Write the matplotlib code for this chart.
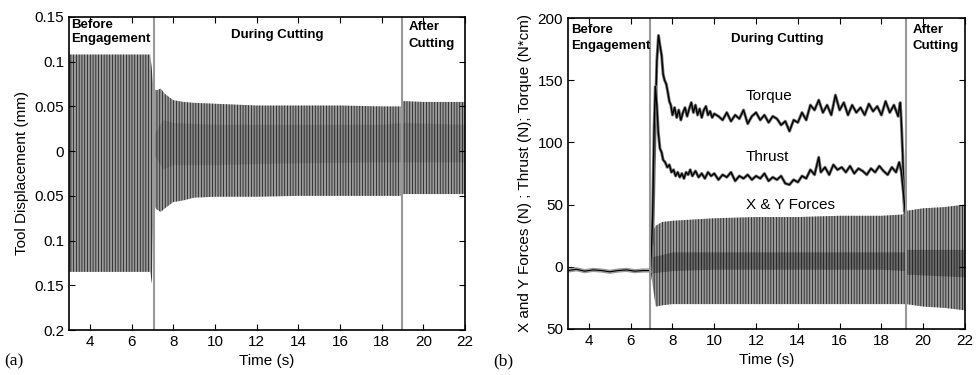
import matplotlib.pyplot as plt
import numpy as np

plt.rcParams['font.family'] = ['Liberation Sans', 'DejaVu Sans']
plt.rcParams['hatch.linewidth'] = 0.55

# ---- panel (a): tool displacement envelope (mm) ----
disp_t = [3.0, 4.0, 5.0, 6.0, 6.9, 6.98, 7.05, 7.2, 7.4, 7.6, 8.0, 8.5, 9.0, 10.0,
          12.0, 14.0, 16.0, 18.0, 18.95, 19.0, 20.0, 21.0, 22.0]
disp_up = [0.108, 0.108, 0.108, 0.108, 0.108, 0.09, 0.07, 0.068, 0.07, 0.064, 0.057,
           0.055, 0.054, 0.053, 0.051, 0.051, 0.051, 0.05, 0.05, 0.056, 0.055, 0.055, 0.055]
disp_lo = [-0.135, -0.135, -0.135, -0.135, -0.135, -0.148, -0.06, -0.065, -0.068,
           -0.064, -0.057, -0.055, -0.052, -0.051, -0.051, -0.05, -0.05, -0.05, -0.05,
           -0.048, -0.048, -0.048, -0.048]
core_t = [7.1, 7.5, 8.0, 10.0, 14.0, 18.0, 19.0, 22.0]
core_up = [0.02, 0.035, 0.032, 0.03, 0.03, 0.03, 0.032, 0.03]
core_lo = [-0.005, -0.02, -0.015, -0.015, -0.013, -0.012, -0.012, -0.012]

# ---- panel (b): forces / thrust / torque ----
base_t = [3.0, 3.4, 3.8, 4.2, 4.6, 5.0, 5.4, 5.8, 6.2, 6.6, 6.95]
base_v = [-3, -2, -3.5, -2.5, -3, -4, -3, -2.5, -3.5, -3, -3]

torque_t = [6.95, 7.05, 7.15, 7.25, 7.33, 7.40, 7.48, 7.55, 7.62, 7.70, 7.78, 7.85, 7.92,
            8.0, 8.1, 8.2, 8.3, 8.4, 8.5, 8.6, 8.7, 8.8, 8.9, 9.0, 9.1, 9.2, 9.3, 9.4,
            9.5, 9.6, 9.7, 9.8, 9.9, 10.0, 10.2, 10.4, 10.6, 10.8, 11.0, 11.2, 11.4,
            11.6, 11.8, 12.0, 12.2, 12.4, 12.6, 12.8, 13.0, 13.2, 13.4, 13.6, 13.8,
            14.0, 14.2, 14.4, 14.6, 14.8, 15.0, 15.2, 15.4, 15.6, 15.8, 16.0, 16.2,
            16.4, 16.6, 16.8, 17.0, 17.2, 17.4, 17.6, 17.8, 18.0, 18.2, 18.4, 18.6,
            18.8, 18.9, 18.95, 19.02, 19.1]
torque_v = [-3, 20, 100, 165, 186, 178, 170, 155, 150, 147, 140, 133, 130,
            122, 128, 120, 126, 118, 124, 128, 121, 127, 132, 124, 130, 122, 127, 120,
            126, 129, 122, 125, 120, 123, 121, 118, 124, 117, 122, 119, 126,
            115, 121, 124, 118, 122, 116, 121, 119, 114, 117, 109, 118,
            116, 124, 118, 130, 126, 134, 124, 130, 122, 138, 126, 132,
            122, 130, 124, 128, 122, 131, 125, 129, 122, 133, 124, 130,
            121, 132, 118, 90, 45]

thrust_t = [6.95, 7.05, 7.12, 7.18, 7.25, 7.32, 7.40, 7.48, 7.55, 7.65, 7.75, 7.85,
            7.95, 8.05, 8.15, 8.25, 8.35, 8.45, 8.55, 8.65, 8.75, 8.85, 8.95, 9.1,
            9.25, 9.4, 9.55, 9.7, 9.85, 10.0, 10.2, 10.4, 10.6, 10.8, 11.0, 11.2,
            11.4, 11.6, 11.8, 12.0, 12.2, 12.4, 12.6, 12.8, 13.0, 13.2, 13.4, 13.6,
            13.8, 14.0, 14.2, 14.4, 14.6, 14.8, 15.0, 15.1, 15.3, 15.5, 15.7, 15.9,
            16.1, 16.3, 16.5, 16.7, 16.9, 17.1, 17.3, 17.5, 17.7, 17.9, 18.1, 18.3,
            18.5, 18.7, 18.85, 18.95, 19.05, 19.15]
thrust_v = [-3, 40, 110, 145, 130, 108, 95, 92, 86, 84, 80, 82,
            76, 78, 73, 76, 72, 75, 71, 76, 74, 78, 73, 77,
            72, 75, 71, 76, 73, 75, 70, 74, 72, 76, 69, 73,
            71, 74, 70, 73, 71, 75, 69, 72, 70, 73, 67, 66,
            70, 68, 73, 71, 78, 74, 88, 76, 80, 74, 82, 78,
            80, 76, 81, 75, 79, 77, 74, 79, 76, 81, 77, 74,
            80, 76, 84, 77, 60, 42]

force_t = [6.95, 7.05, 7.2, 7.5, 8.0, 9.0, 10.0, 12.0, 14.0, 16.0, 18.0, 19.0,
           19.2, 20.0, 21.0, 22.0]
force_up = [0, 28, 33, 36, 37, 38, 39, 40, 40, 41, 41, 42, 45, 47, 48, 50]
force_lo = [-3, -15, -32, -31, -30, -30, -30, -30, -30, -30, -30, -30, -30, -32, -33, -35]
fcore_t = [7.0, 8.0, 10.0, 14.0, 18.0, 19.1, 19.2, 22.0]
fcore_up = [8, 12, 12, 12, 12, 12, 14, 14]
fcore_lo = [-5, -3, -2, -2, -2, -3, -6, -8]

xticks = [4, 6, 8, 10, 12, 14, 16, 18, 20, 22]
a_ticks = [0.15, 0.1, 0.05, 0, -0.05, -0.1, -0.15, -0.2]
a_labels = ['0.15', '0.1', '0.05', '0', '0.05', '0.1', '0.15', '0.2']
b_ticks = [200, 150, 100, 50, 0, -50]
b_labels = ['200', '150', '100', '50', '0', '50']

fig = plt.figure(figsize=(9.76, 3.75), dpi=100)
ax1 = fig.add_axes([0.0707, 0.12, 0.4057, 0.8347])
ax2 = fig.add_axes([0.582, 0.1227, 0.4067, 0.8293])

band = dict(facecolor='#9a9a9a', edgecolor='#1a1a1a', hatch='||||||', linewidth=0)
bold = dict(fontsize=9.5, fontweight='bold', va='top')

ax1.fill_between(disp_t, disp_lo, disp_up, **band)
ax1.fill_between(core_t, core_lo, core_up, color='black', alpha=0.12, linewidth=0)
ax1.axvline(7.1, color='#999999', lw=1.5)
ax1.axvline(19.0, color='#999999', lw=1.5)
ax1.set_ylim(-0.2, 0.15)
ax1.set_yticks(a_ticks)
ax1.set_yticklabels(a_labels)
ax1.set_ylabel('Tool Displacement (mm)', fontsize=11)
ax1.text(3.1, 0.148, 'Before\nEngagement', linespacing=1.25, **bold)
ax1.text(13.0, 0.137, 'During Cutting', ha='center', **bold)
ax1.text(19.3, 0.146, 'After\nCutting', linespacing=1.6, **bold)

ax2.fill_between(force_t, force_lo, force_up, **band)
ax2.fill_between(fcore_t, fcore_lo, fcore_up, color='black', alpha=0.3, linewidth=0)
ax2.plot(base_t, base_v, color='#9a9a9a', lw=3)
ax2.plot(base_t, base_v, color='black', lw=0.8)
ax2.plot(torque_t, torque_v, color='#777777', lw=2.2)
ax2.plot(torque_t, torque_v, color='black', lw=1.0)
ax2.plot(thrust_t, thrust_v, color='#777777', lw=2.2)
ax2.plot(thrust_t, thrust_v, color='black', lw=1.0)
ax2.axvline(6.9, color='#999999', lw=1.5)
ax2.axvline(19.2, color='#999999', lw=1.5)
ax2.set_ylim(-50, 200)
ax2.set_yticks(b_ticks)
ax2.set_yticklabels(b_labels)
ax2.set_ylabel('X and Y Forces (N) ; Thrust (N); Torque (N*cm)', fontsize=11)
ax2.text(3.15, 195, 'Before\nEngagement', linespacing=1.45, **bold)
ax2.text(13.0, 188, 'During Cutting', ha='center', **bold)
ax2.text(19.5, 195, 'After\nCutting', linespacing=1.45, **bold)
ax2.text(11.5, 137, 'Torque', fontsize=11, va='center')
ax2.text(11.5, 88, 'Thrust', fontsize=11, va='center')
ax2.text(11.5, 50, 'X & Y Forces', fontsize=11, va='center')

for ax in (ax1, ax2):
    ax.set_xlim(3, 22)
    ax.set_xticks(xticks)
    ax.set_xlabel('Time (s)', fontsize=11)
    ax.tick_params(direction='in', top=True, right=True, labelsize=11, length=4)
    for s in ax.spines.values():
        s.set_linewidth(1.2)

fig.text(0.004, 0.025, '(a)', fontsize=12.5, family='Liberation Serif')
fig.text(0.505, 0.025, '(b)', fontsize=12.5, family='Liberation Serif')

fig.savefig('out.png', dpi=100)
